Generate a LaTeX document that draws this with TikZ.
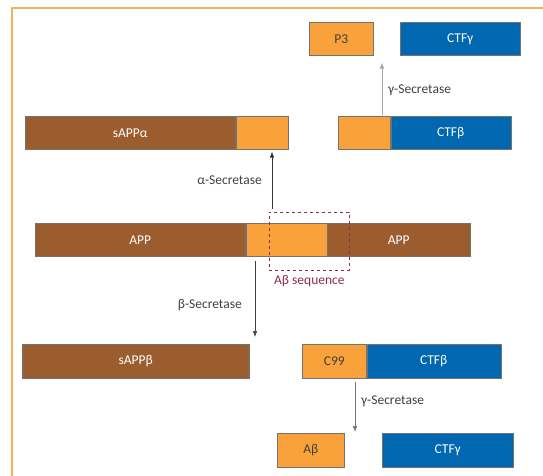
\documentclass[tikz,border=0pt]{standalone}
\usepackage{fontspec}
\setmainfont{Carlito}
\usetikzlibrary{arrows.meta}
\definecolor{appbrown}{HTML}{9B5D2D}
\definecolor{abpart}{HTML}{F9A23B}
\definecolor{ctfblue}{HTML}{0067B0}
\definecolor{framec}{HTML}{F8B05A}
\definecolor{seqred}{HTML}{8E2A4C}
\tikzset{
  seg/.style={draw=black!55, line width=0.5pt, minimum height=33pt, inner sep=0pt,
    anchor=north west, font=\fontsize{13.5}{15}\selectfont},
  brownseg/.style={seg, fill=appbrown, text=white},
  orangeseg/.style={seg, fill=abpart, text=black!75},
  blueseg/.style={seg, fill=ctfblue, text=white},
  cut/.style={-{Latex[length=6pt,width=4.5pt]}, line width=0.6pt},
  enzyme/.style={font=\fontsize{13.5}{15}\selectfont, text=black!75, inner sep=1pt},
}
\begin{document}
\begin{tikzpicture}[x=1pt, y=-1pt]
  \clip (0,0) rectangle (543,475);
  \draw[framec, line width=2pt] (12,490) |- (560,8);

  % gamma products of the alpha route
  \node[orangeseg, minimum width=64pt] (p3) at (309,22) {P3};
  \node[blueseg, minimum width=120pt] (ctfgA) at (400,22) {CTFγ};

  % alpha cleavage
  \node[brownseg, minimum width=210pt] (sappa) at (25,116) {sAPPα};
  \node[orangeseg, minimum width=52pt] (sappaB) at (sappa.north east) {};
  \node[orangeseg, minimum width=52pt] (ctfbA) at (338,116) {};
  \node[blueseg, minimum width=120pt] (ctfbB) at (ctfbA.north east) {CTFβ};

  % full length protein
  \node[brownseg, minimum width=210pt] (appL) at (35,223) {APP};
  \node[orangeseg, minimum width=81pt] (appM) at (appL.north east) {};
  \node[brownseg, minimum width=143pt] (appR) at (appM.north east) {APP};
  \node[draw=seqred, dashed, line width=0.7pt, minimum width=80pt, minimum height=58pt,
    inner sep=0pt, anchor=north west] (seq) at (269,212) {};
  \node[text=seqred, font=\fontsize{13.5}{15}\selectfont, below=1pt] (seqlbl) at (seq.south) {Aβ sequence};

  % beta cleavage
  \node[brownseg, minimum width=227pt, minimum height=34pt] (sappb) at (22,344) {sAPPβ};
  \node[orangeseg, minimum width=64pt, minimum height=34pt] (c99) at (302,344) {C99};
  \node[blueseg, minimum width=134pt, minimum height=34pt] (ctfbC) at (c99.north east) {CTFβ};
  \node[orangeseg, minimum width=67pt, minimum height=34pt] (ab) at (277,433) {Aβ};
  \node[blueseg, minimum width=131pt, minimum height=34pt] (ctfgB) at (382,433) {CTFγ};

  % cleavage arrows
  \coordinate (acut) at (272,209);
  \coordinate (bcut) at (255,261);
  \coordinate (gcutA) at (382,115);
  \coordinate (gcutB) at (355,382);
  \draw[cut, black!80, shorten >=2pt] (acut) -- (acut |- sappaB.south);
  \draw[cut, black!75, shorten >=7pt] (bcut) -- (bcut |- sappb.north);
  \draw[cut, black!35, shorten >=7pt] (gcutA) -- (gcutA |- p3.south);
  \draw[cut, black!55, shorten >=1pt] (gcutB) -- (gcutB |- ab.north);

  \node[enzyme, anchor=east] (alab) at (263,180) {α-Secretase};
  \node[enzyme, anchor=east] (blab) at (243,305) {β-Secretase};
  \node[enzyme, anchor=west] (glabA) at (387,90) {γ-Secretase};
  \node[enzyme, anchor=west] (glabB) at (360,401) {γ-Secretase};
\end{tikzpicture}
\end{document}
